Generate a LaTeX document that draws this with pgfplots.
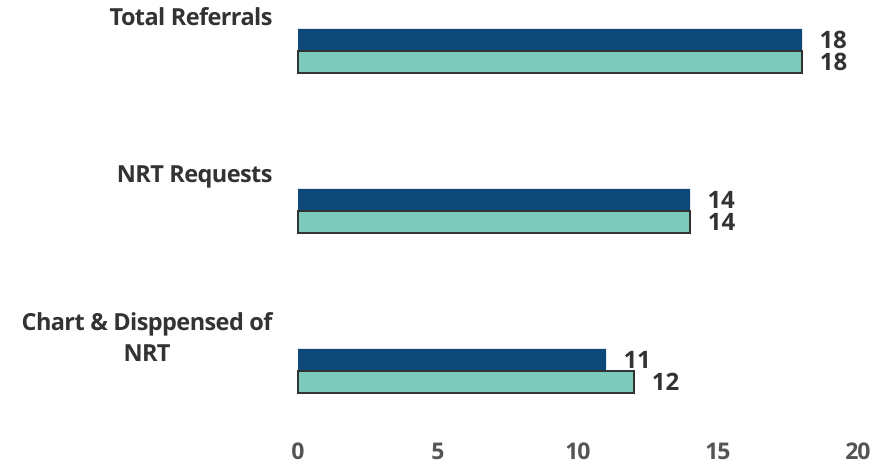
\documentclass[border=0pt]{standalone}
\usepackage{pgfplots}
\pgfplotsset{compat=1.18}
\usepackage{fontspec}
\setmainfont{Open Sans}
\newfontfamily\catfont[LetterSpace=-2.5]{Open Sans}
\newfontfamily\numfont[LetterSpace=-5]{Open Sans}
\definecolor{navy}{HTML}{0E4878}
\definecolor{teal2}{HTML}{7CCABC}
\definecolor{txt}{HTML}{333333}
\definecolor{tickgray}{HTML}{555555}

\begin{document}
\begin{tikzpicture}
\path[use as bounding box] (0,0) rectangle (877bp,464bp);
\begin{axis}[
  at={(298bp,29bp)}, anchor=south west,
  scale only axis, width=560bp, height=408bp,
  xmin=0, xmax=20, ymin=-0.4, ymax=2.15,
  xbar, bar width=22bp,
  xtick={0,5,...,20},
  ytick={0,1,2},
  yticklabels={{Chart \& Disppensed of\\NRT},{NRT Requests},{Total Referrals}},
  axis line style={draw=none}, major tick length=0,
  xticklabel style={font=\numfont\fontsize{23bp}{24bp}\selectfont\bfseries, text=tickgray, anchor=center, yshift=-16bp},
  yticklabel style={font=\catfont\fontsize{23.5bp}{31bp}\selectfont\bfseries, text=txt, align=center, anchor=east, xshift=-22bp, yshift=34bp},
  /pgf/number format/assume math mode=true,
  nodes near coords,
  nodes near coords style={font=\fontsize{24bp}{24bp}\selectfont\bfseries, text=txt, anchor=west, xshift=14bp},
  clip=false,
]
\addplot[fill=navy, draw=none, bar shift=11bp] coordinates {(11,0) (14,1) (18,2)};
\addplot[fill=teal2, draw=txt, line width=1.2bp, bar shift=-11bp] coordinates {(12,0) (14,1) (18,2)};
\end{axis}
\end{tikzpicture}
\end{document}
